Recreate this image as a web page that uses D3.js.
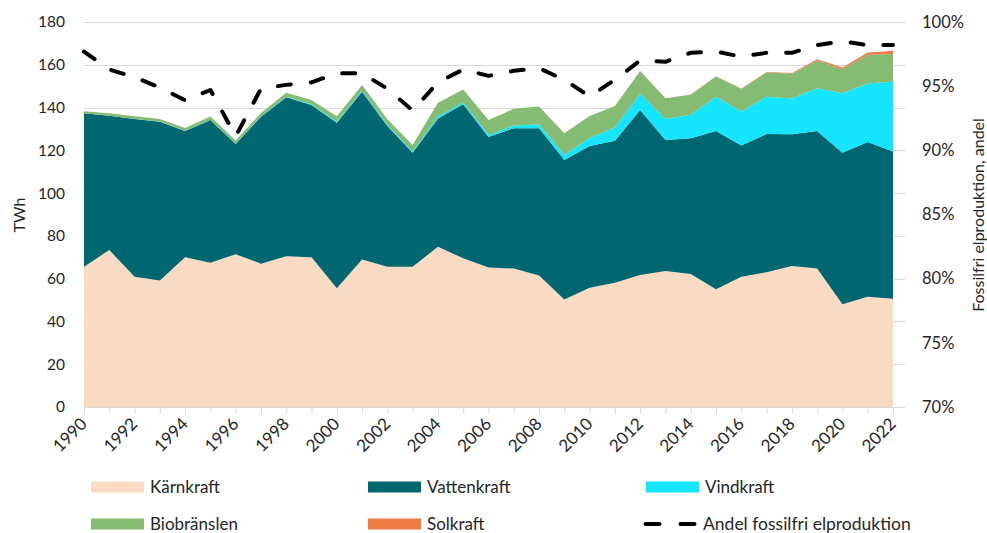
<!DOCTYPE html>
<html>
<head>
<meta charset="utf-8">
<script src="https://cdn.jsdelivr.net/npm/d3@7"></script>
<style>
    body { margin: 0; background: #fff; }
    text { font-family: Lato, "Open Sans", sans-serif; fill: #262626; }
</style>
</head>
<body>
<script>
//anonymous function so nothing is in global scope
(function(){
    // years on the x axis
    var years = [1990,1991,1992,1993,1994,1995,1996,1997,1998,1999,2000,2001,2002,2003,2004,2005,
                 2006,2007,2008,2009,2010,2011,2012,2013,2014,2015,2016,2017,2018,2019,2020,2021,2022];

    // production per source, TWh
    var karnkraft = [65.6,73.4,60.9,59.1,70.0,67.5,71.4,67.0,70.5,70.0,55.5,69.0,65.6,65.6,74.9,69.5,
                     65.2,64.7,61.5,50.3,55.8,58.1,61.7,63.6,62.2,55.0,60.9,63.0,65.9,64.8,48.0,51.6,50.6];
    var vattenkraft = [71.7,62.8,73.7,74.3,59.0,66.7,51.6,68.7,74.3,71.2,77.4,78.4,65.8,53.3,60.0,72.0,
                       61.0,65.6,68.8,65.2,66.2,66.4,77.2,61.2,63.4,74.0,61.4,64.6,61.6,64.2,70.9,72.3,68.8];
    var vindkraft = [0.0,0.0,0.1,0.1,0.1,0.1,0.1,0.2,0.3,0.4,0.5,0.5,0.6,0.6,0.9,0.9,
                     1.0,1.3,1.8,2.4,3.8,6.2,7.6,9.8,11.0,16.1,15.8,17.5,16.7,20.0,27.8,27.3,32.7];
    var biobranslen = [1.0,1.1,1.2,1.2,1.3,1.5,1.5,1.6,1.8,1.9,2.5,2.6,2.5,3.0,6.5,6.1,
                       7.0,7.8,8.4,10.1,10.3,10.0,10.6,9.7,9.4,9.4,10.7,11.3,11.6,13.0,11.2,13.5,12.9];
    var solkraft = [0,0,0,0,0,0,0,0,0,0,0,0,0,0,0,0,
                    0,0,0,0,0,0,0,0,0.05,0.1,0.1,0.2,0.3,0.6,0.8,1.0,1.6];

    // fossil free share, percent
    var andel = [97.7,96.3,95.7,94.9,93.9,94.7,91.1,94.8,95.1,95.3,96.0,96.0,94.8,93.1,95.3,96.3,
                 95.8,96.2,96.4,95.5,94.2,95.5,97.0,96.9,97.6,97.7,97.3,97.6,97.6,98.2,98.5,98.2,98.2];

    // series names and tick labels
    var seriesNames = ["Kärnkraft","Vattenkraft","Vindkraft","Biobränslen","Solkraft"];
    var lineName = "Andel fossilfri elproduktion";
    var leftTicks = [0,20,40,60,80,100,120,140,160,180];
    var rightTicks = [70,75,80,85,90,95,100];
    var xLabelYears = [1990,1992,1994,1996,1998,2000,2002,2004,2006,2008,2010,2012,2014,2016,2018,2020,2022];

    var colors = ["#f9dbc4","#00666f","#15e5ff","#86bb74","#ef7d46"];

    window.onload = setChart();

    function setChart(){
        var width = 987,
            height = 533;

        var svg = d3.select("body")
            .append("svg")
            .attr("width", width)
            .attr("height", height);

        // scales
        var x = d3.scaleLinear().domain([1990, 2022]).range([84, 893]);
        var y = d3.scaleLinear().domain([0, 180]).range([407, 22]);
        var yRight = d3.scaleLinear().domain([70, 100]).range([407, 22]);

        // build a table for d3.stack from the arrays
        var table = years.map(function(yr, i){
            return {
                year: yr,
                "Kärnkraft": karnkraft[i],
                "Vattenkraft": vattenkraft[i],
                "Vindkraft": vindkraft[i],
                "Biobränslen": biobranslen[i],
                "Solkraft": solkraft[i]
            };
        });

        var stacked = d3.stack().keys(seriesNames)(table);

        // gridlines
        svg.append("g")
            .selectAll("line")
            .data(leftTicks.slice(1))
            .enter()
            .append("line")
            .attr("x1", 84)
            .attr("x2", 905)
            .attr("y1", function(d){ return Math.round(y(d)) + 0.5; })
            .attr("y2", function(d){ return Math.round(y(d)) + 0.5; })
            .attr("stroke", "#d9d9d9")
            .attr("stroke-width", 1);

        // stacked areas
        var area = d3.area()
            .x(function(d){ return x(d.data.year); })
            .y0(function(d){ return y(d[0]); })
            .y1(function(d){ return y(d[1]); });

        svg.append("g")
            .selectAll("path")
            .data(stacked)
            .enter()
            .append("path")
            .attr("d", area)
            .attr("fill", function(d, i){ return colors[i]; });

        // x axis line and ticks
        var xAxis = d3.axisBottom(x)
            .tickValues(years)
            .tickSize(6)
            .tickFormat("");
        var gx = svg.append("g")
            .attr("transform", "translate(0,407.5)")
            .call(xAxis);
        gx.select(".domain").remove();
        gx.selectAll(".tick line").attr("stroke", "#d9d9d9");
        gx.append("line")
            .attr("x1", 84).attr("x2", 905)
            .attr("y1", 0).attr("y2", 0)
            .attr("stroke", "#d9d9d9");

        // rotated year labels
        svg.append("g")
            .selectAll("text")
            .data(xLabelYears)
            .enter()
            .append("text")
            .attr("transform", function(d){
                return "translate(" + (x(d) + 4) + ",425) rotate(-45)";
            })
            .attr("text-anchor", "end")
            .attr("font-size", "17px")
            .text(function(d){ return d; });

        // left axis labels
        svg.append("g")
            .selectAll("text")
            .data(leftTicks)
            .enter()
            .append("text")
            .attr("x", 65)
            .attr("y", function(d){ return y(d); })
            .attr("dy", "0.35em")
            .attr("text-anchor", "end")
            .attr("font-size", "15.5px")
            .text(function(d){ return d; });

        // right axis labels
        svg.append("g")
            .selectAll("text")
            .data(rightTicks)
            .enter()
            .append("text")
            .attr("x", 922)
            .attr("y", function(d){ return yRight(d); })
            .attr("dy", "0.35em")
            .attr("font-size", "16.5px")
            .text(function(d){ return d + "%"; });

        // axis titles
        svg.append("text")
            .attr("transform", "translate(25,215) rotate(-90)")
            .attr("text-anchor", "middle")
            .attr("font-size", "16px")
            .text("TWh");

        svg.append("text")
            .attr("transform", "translate(984,215) rotate(-90)")
            .attr("text-anchor", "middle")
            .attr("font-size", "16px")
            .text("Fossilfri elproduktion, andel");

        // fossil free share line
        var line = d3.line()
            .x(function(d, i){ return x(years[i]); })
            .y(function(d){ return yRight(d); });

        svg.append("path")
            .datum(andel)
            .attr("d", line)
            .attr("fill", "none")
            .attr("stroke", "#000")
            .attr("stroke-width", 4)
            .attr("stroke-dasharray", "13,20")
            .attr("stroke-linecap", "round")
            .attr("stroke-linejoin", "round");

        setLegend(svg);
    };

    function setLegend(svg){
        var pos = [[91,487],[368,487],[646,487],[91,524],[368,524]];

        var items = svg.append("g")
            .selectAll("g")
            .data(seriesNames)
            .enter()
            .append("g")
            .attr("transform", function(d, i){
                return "translate(" + pos[i][0] + "," + pos[i][1] + ")";
            });

        items.append("rect")
            .attr("x", 0)
            .attr("y", -5.5)
            .attr("width", 53)
            .attr("height", 11)
            .attr("fill", function(d, i){ return colors[i]; });

        items.append("text")
            .attr("x", 59)
            .attr("dy", "0.35em")
            .attr("font-size", "17px")
            .text(function(d){ return d; });

        // legend entry for the dashed line
        var lg = svg.append("g").attr("transform", "translate(646,524)");
        lg.append("line")
            .attr("x1", 0).attr("x2", 52)
            .attr("stroke", "#000")
            .attr("stroke-width", 4)
            .attr("stroke-dasharray", "14,21")
            .attr("stroke-linecap", "round")
            .attr("transform", "translate(-0.5,0)");
        lg.append("text")
            .attr("x", 57)
            .attr("dy", "0.35em")
            .attr("font-size", "17.5px")
            .text(lineName);
    };

})();
</script>
</body>
</html>
